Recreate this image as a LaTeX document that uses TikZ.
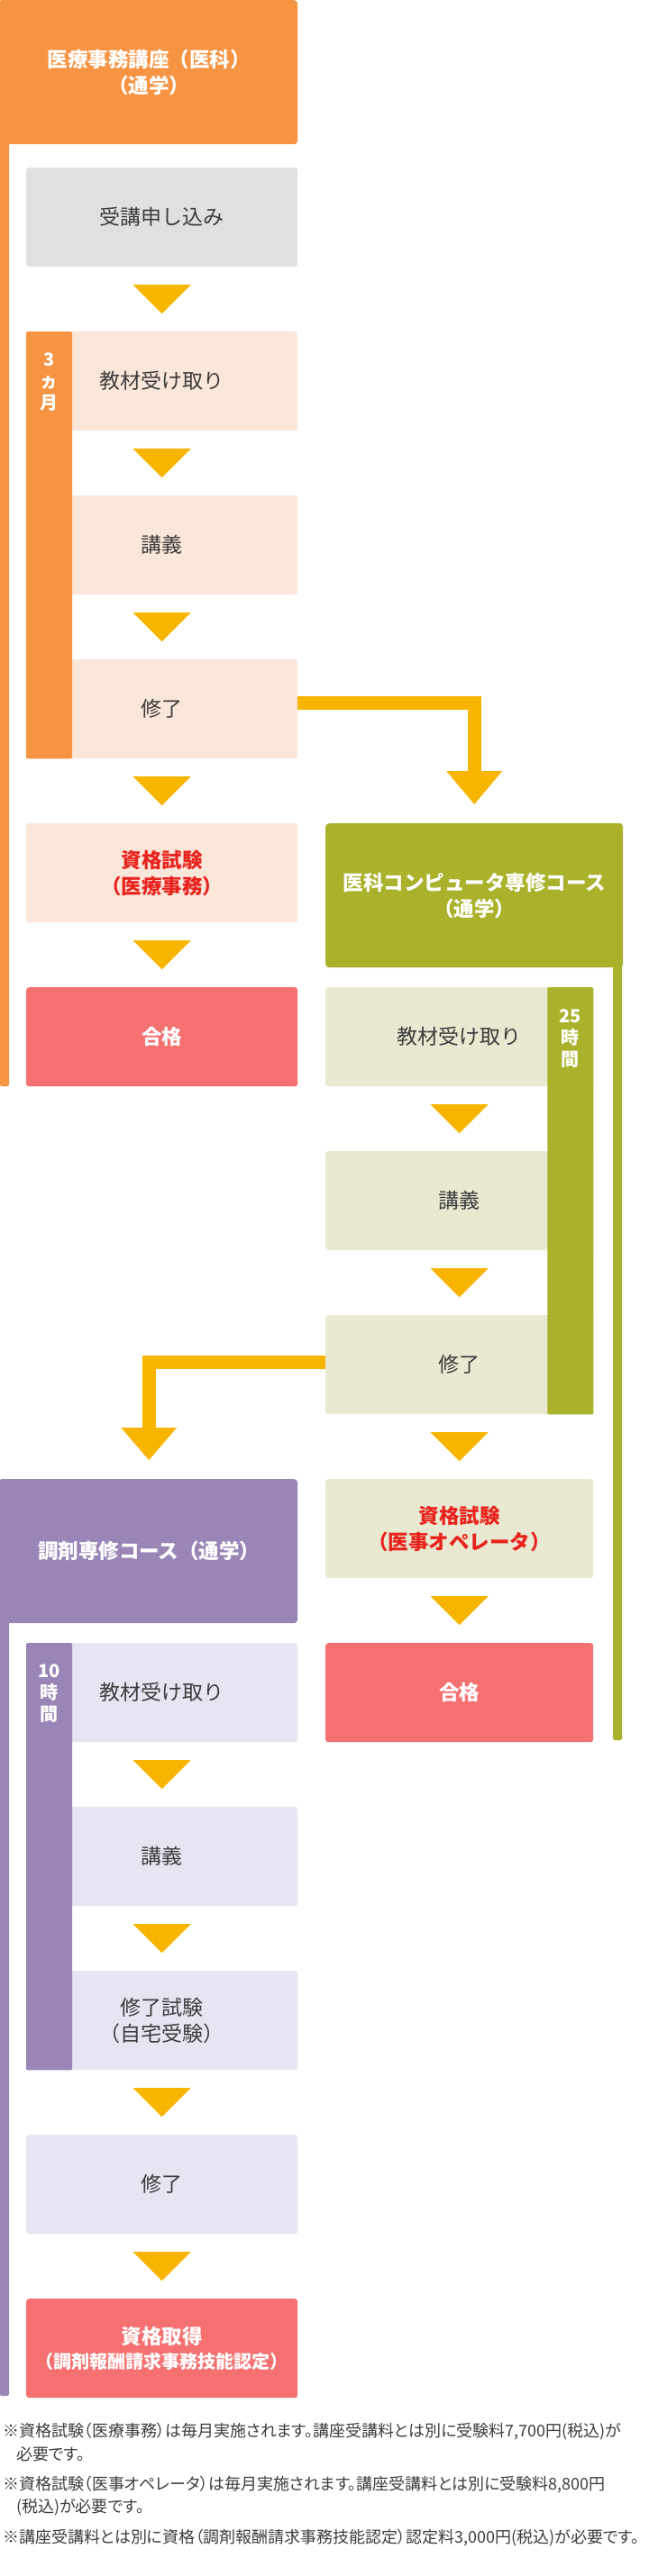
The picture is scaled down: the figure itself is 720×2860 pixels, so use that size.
\documentclass[tikz,border=0pt]{standalone}
\usepackage{fontspec}
\setmainfont{Noto Sans CJK JP}
\newfontfamily\notefont[RawFeature=+palt]{Noto Sans CJK JP}
\usetikzlibrary{calc}

\definecolor{orangec}{HTML}{F79443}
\definecolor{orangel}{HTML}{FBE7DA}
\definecolor{grayc}{HTML}{E0E0E0}
\definecolor{greenc}{HTML}{AAB22B}
\definecolor{greenl}{HTML}{E9E8D0}
\definecolor{purplec}{HTML}{9A86B6}
\definecolor{purplel}{HTML}{E7E5F2}
\definecolor{pinkc}{HTML}{F57171}
\definecolor{redc}{HTML}{E8231E}
\definecolor{ink}{HTML}{3C3C3C}
\definecolor{flowyellow}{HTML}{F7B500}

% small arrow between two boxes
\newcommand{\flowtri}[2]{\fill[tri] ($(#1.south)!0.5!(#2.north)+(-32,16)$) -- ++(64,0) -- ++(-32,-32) -- cycle;}

\begin{document}
\begin{tikzpicture}[x=1pt,y=1pt,line join=miter,
	stepbox/.style={anchor=north west,minimum width=301,minimum height=110,inner sep=0,rounded corners=3,text=ink,align=center,font=\fontsize{23}{29}\selectfont},
	goalbox/.style={stepbox,text=redc,font=\fontsize{22.5}{29}\selectfont\bfseries},
	passbox/.style={stepbox,fill=pinkc,text=white,font=\fontsize{22.5}{29}\selectfont\bfseries},
	headbox/.style={anchor=north west,minimum width=330,minimum height=160,inner sep=0,rounded corners=4,text=white,align=center,font=\fontsize{22.5}{29}\selectfont\bfseries},
	barlabel/.style={anchor=north,inner sep=0,text=white,align=center,font=\fontsize{20}{24}\selectfont\bfseries},
	note/.style={anchor=base west,inner sep=0,text=ink,font=\notefont\fontsize{18}{26}\selectfont},
	tri/.style={fill=flowyellow},
	elbow/.style={draw=flowyellow,line width=15}]
	\useasboundingbox (0,0) rectangle (720,-2860);

	% medical office course
	\fill[orangec,rounded corners=2] (0,0) rectangle (10,-1206);
	\node[headbox,fill=orangec] (oh) at (0,0) {医療事務講座（医科）\\（通学）};
	\node[stepbox,fill=grayc] (o1) at (29,-186) {受講申し込み};
	\node[stepbox,fill=orangel] (o2) at (29,-368) {教材受け取り};
	\node[stepbox,fill=orangel] (o3) at (29,-550) {講義};
	\node[stepbox,fill=orangel] (o4) at (29,-732) {修了};
	\node[goalbox,fill=orangel] (o5) at (29,-914) {資格試験\\（医療事務）};
	\node[passbox] (o6) at (29,-1096) {合格};
	\fill[orangec,rounded corners=2] (o2.north west) rectangle ([xshift=51]o4.south west);
	\node[barlabel] (ot) at (54.5,-391) {3\\ヵ\\月};
	\flowtri{o1}{o2}
	\flowtri{o2}{o3}
	\flowtri{o3}{o4}
	\flowtri{o4}{o5}
	\flowtri{o5}{o6}

	% computer course
	\fill[greenc,rounded corners=2] (680,-914) rectangle (690,-1932);
	\node[headbox,fill=greenc] (gh) at (361,-914) {医科コンピュータ専修コース\\（通学）};
	\node[stepbox,minimum width=297,fill=greenl] (g1) at (361,-1096) {教材受け取り};
	\node[stepbox,minimum width=297,fill=greenl] (g2) at (361,-1278) {講義};
	\node[stepbox,minimum width=297,fill=greenl] (g3) at (361,-1460) {修了};
	\node[goalbox,minimum width=297,fill=greenl] (g4) at (361,-1642) {資格試験\\（医事オペレータ）};
	\node[passbox,minimum width=297] (g5) at (361,-1824) {合格};
	\fill[greenc,rounded corners=2] ([xshift=-51]g1.north east) rectangle (g3.south east);
	\node[barlabel] (gt) at (632.5,-1120) {25\\時\\間};
	\flowtri{g1}{g2}
	\flowtri{g2}{g3}
	\flowtri{g3}{g4}
	\flowtri{g4}{g5}

	% dispensing course
	\fill[purplec,rounded corners=2] (0,-1642) rectangle (10,-2660);
	\node[headbox,fill=purplec] (ph) at (0,-1642) {調剤専修コース（通学）};
	\node[stepbox,fill=purplel] (p1) at (29,-1824) {教材受け取り};
	\node[stepbox,fill=purplel] (p2) at (29,-2006) {講義};
	\node[stepbox,fill=purplel] (p3) at (29,-2188) {修了試験\\（自宅受験）};
	\node[stepbox,fill=purplel] (p4) at (29,-2370) {修了};
	\node[passbox,font=\fontsize{22.5}{27}\selectfont\bfseries] (p5) at (29,-2552) {資格取得\\{\fontsize{20}{27}\selectfont（調剤報酬請求事務技能認定）}};
	\fill[purplec,rounded corners=2] (p1.north west) rectangle ([xshift=51]p3.south west);
	\node[barlabel] (pt) at (54.5,-1847) {10\\時\\間};
	\flowtri{p1}{p2}
	\flowtri{p2}{p3}
	\flowtri{p3}{p4}
	\flowtri{p4}{p5}

	% links between courses
	\draw[elbow] ([yshift=7]o4.east) -| ($(gh.north)+(0,58)$);
	\fill[tri] ($(gh.north)+(-31,58)$) -- ++(62,0) -- ++(-31,-37) -- cycle;
	\draw[elbow] ([yshift=3]g3.west) -| ($(ph.north)+(0,57)$);
	\fill[tri] ($(ph.north)+(-31,57)$) -- ++(62,0) -- ++(-31,-36) -- cycle;

	% notes
	\node[note] (n1) at (3,-2705) {※資格試験（医療事務）は毎月実施されます。講座受講料とは別に受験料7,700円(税込)が};
	\node[note] (n1b) at (18,-2731) {必要です。};
	\node[note] (n2) at (3,-2764) {※資格試験（医事オペレータ）は毎月実施されます。講座受講料とは別に受験料8,800円};
	\node[note] (n2b) at (18,-2789) {(税込)が必要です。};
	\node[note] (n3) at (3,-2823) {※講座受講料とは別に資格（調剤報酬請求事務技能認定）認定料3,000円(税込)が必要です。};
\end{tikzpicture}
\end{document}
